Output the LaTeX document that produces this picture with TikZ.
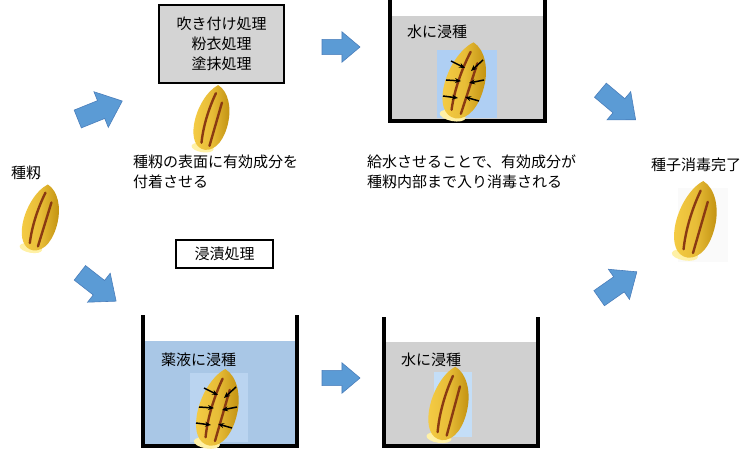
\documentclass[tikz,border=0pt]{standalone}
\usepackage{fontspec}
\newfontfamily\jp{Noto Sans CJK JP}
\usetikzlibrary{arrows.meta}

\definecolor{waterblue}{HTML}{A9C7E6}
\definecolor{watergray}{HTML}{D0D0D0}
\definecolor{patchblue}{HTML}{AFCFF3}
\definecolor{patchpale}{HTML}{C4DEF7}
\definecolor{patchmid}{HTML}{BAD4F0}
\definecolor{arrowblue}{HTML}{5B9BD5}
\definecolor{arrowedge}{HTML}{4A7EBB}
\definecolor{grainlight}{HTML}{F5CC45}
\definecolor{graindark}{HTML}{BF8E0E}
\definecolor{groove}{HTML}{8A3A12}
\definecolor{glow}{HTML}{FFF1A6}
\definecolor{boxgray}{HTML}{D4D4D4}

\tikzset{
  jptext/.style={font=\jp\fontsize{15}{20}\selectfont, text=black, inner sep=0pt},
  wall/.style={line width=3.5pt, black, line join=miter},
  seedarrow/.style={line width=1.5pt, -{Stealth[length=6pt,width=5pt]}},
  % a rice grain, long axis vertical, tip at the top (y grows downwards)
  seed/.pic={
    \fill[glow] (-5,33) ellipse [x radius=12, y radius=5];
    \shade[left color=grainlight, right color=graindark, middle color=grainlight!75!graindark]
      (1,-36) .. controls (13,-31) and (19,-14) .. (18,2)
      .. controls (17,20) and (10,34) .. (-2,35)
      .. controls (-13,35) and (-18,24) .. (-18,10)
      .. controls (-18,-8) and (-10,-28) .. (1,-36) -- cycle;
    \draw[groove, line width=2.4pt, line cap=round]
      (0,-27) .. controls (-5,-10) and (-8,10) .. (-7,28);
    \draw[groove, line width=2.4pt, line cap=round]
      (8,-18) .. controls (6,-2) and (4,14) .. (2,30);
  },
  % a blue block arrow pointing along +x
  blockarrow/.pic={
    \filldraw[fill=arrowblue, draw=arrowedge, line width=0.6pt]
      (-20,-8) -- (1,-8) -- (1,-16) -- (20,0) -- (1,16) -- (1,8) -- (-20,8) -- cycle;
  },
  % the six black arrows pushing into a grain
  inflow/.pic={
    \draw[seedarrow] (-14,-20) -- (0,-13);
    \draw[seedarrow] (-19,-1) -- (-4,0);
    \draw[seedarrow] (-22,15) -- (-7,17);
    \draw[seedarrow] (18,-21) -- (6,-10);
    \draw[seedarrow] (19,-1) -- (4,2);
    \draw[seedarrow] (14,20) -- (0,16);
  }
}

\begin{document}
\begin{tikzpicture}[x=1pt,y=-1pt]
\useasboundingbox[fill=white] (0,0) rectangle (755,449);

% ---- starting grain ----
\node[jptext] (start) at (26,173) {種籾};
\pic[scale=0.95, rotate=-10] at (41,218) {seed};

% ---- upper route: coating ----
\pic[rotate=22, scale=1.2] at (100,110) {blockarrow};
\node[jptext, draw=black, line width=1.8pt, fill=boxgray, minimum width=125pt,
      minimum height=78pt, align=center] (coat) at (221.5,44)
      {吹き付け処理\\粉衣処理\\塗抹処理};
\pic[scale=0.93, rotate=-9] at (212,118) {seed};
\node[jptext, anchor=north west, align=left] (coatnote) at (133,155)
      {種籾の表面に有効成分を\\付着させる};

\pic[scale=0.95] at (341,47) {blockarrow};

% upper beaker of water
\fill[watergray] (390,16) rectangle (545,121);
\draw[wall] (390,-3) -- (390,121) -- (545,121) -- (545,-3);
\node[jptext, anchor=west] (soakA) at (407,32) {水に浸種};
\fill[patchblue] (437,50) rectangle (497,118);
\pic[scale=1.1, rotate=-11] at (465,81) {seed};
\pic at (465,81) {inflow};

\node[jptext, anchor=north west, align=left] (soaknote) at (367,155)
      {給水させることで、有効成分が\\種籾内部まで入り消毒される};

\pic[rotate=-40, scale=1.15] at (618,105) {blockarrow};

% ---- lower route: immersion ----
\pic[rotate=-38, scale=1.15] at (98,287) {blockarrow};
\node[jptext, draw=black, line width=1.5pt, fill=white, minimum width=97pt,
      minimum height=28pt] (dip) at (224.5,254) {浸漬処理};

% beaker of chemical solution
\fill[waterblue] (143,341) rectangle (297,446);
\draw[wall] (143,315) -- (143,446) -- (297,446) -- (297,315);
\node[jptext, anchor=west] (soakB) at (161,360) {薬液に浸種};
\fill[patchmid] (190,373) rectangle (248,442);
\pic[scale=1.1, rotate=-9] at (218,408) {seed};
\pic at (218,408) {inflow};

\pic[scale=0.95] at (341,378) {blockarrow};

% lower beaker of water
\fill[watergray] (384,342) rectangle (538,446);
\draw[wall] (384,317) -- (384,446) -- (538,446) -- (538,317);
\node[jptext, anchor=west] (soakC) at (401,360) {水に浸種};
\fill[patchpale] (434,372) rectangle (472,437);
\pic[scale=1.05, rotate=-8] at (449,404) {seed};

\pic[rotate=35, scale=1.15] at (618,285) {blockarrow};

% ---- finished grain ----
\node[jptext] (done) at (696,165) {種子消毒完了};
\fill[black!2] (678,188) rectangle (728,262);
\pic[scale=1.1, rotate=-9] at (696,220) {seed};
\end{tikzpicture}
\end{document}
